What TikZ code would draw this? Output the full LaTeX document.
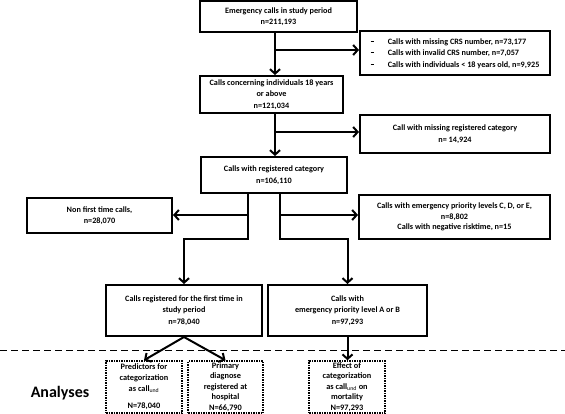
\documentclass[tikz,border=0pt]{standalone}
\usepackage{fontspec}
\setmainfont{Carlito}
\usetikzlibrary{arrows.meta,calc}
\newcommand{\dashitem}{\rule[2.3pt]{3.2pt}{1pt}\hspace{14pt}}
\begin{document}
\begin{tikzpicture}[x=1pt,y=-1pt,
  box/.style={draw,line width=2pt,align=center,inner sep=0.5pt,font=\fontsize{8.2}{11.5}\selectfont\bfseries},
  abox/.style={draw,line width=1.5pt,densely dotted,align=center,inner sep=0pt,font=\fontsize{8.3}{10.6}\selectfont\bfseries},
  arr/.style={line width=2pt,-{Straight Barb[length=4.5pt,width=10pt,line width=2pt]}}]
\useasboundingbox (0,0) rectangle (565,414);
% main column
\node[box,minimum width=157pt,minimum height=31pt] (b1) at (278.5,16.5) {Emergency calls in study period\\n=211,193};
\node[box,minimum width=190pt,minimum height=44pt,align=left] (r1) at (455,53.5) {\dashitem Calls with missing CRS number, n=73,177\\\dashitem Calls with invalid CRS number, n=7,057\\\dashitem Calls with individuals < 18 years old, n=9,925};
\node[box,minimum width=143pt,minimum height=37pt] (b2) at (271.5,94.5) {Calls concerning individuals 18 years\\or above\\n=121,034};
\node[box,minimum width=190pt,minimum height=38pt] (r2) at (455,134) {Call with missing registered category\\n= 14,924};
\node[box,minimum width=146pt,minimum height=36pt] (b3) at (274,175) {Calls with registered category\\n=106,110};
\node[box,minimum width=145pt,minimum height=35pt] (nf) at (99.5,215.5) {Non first time calls,\\n=28,070};
\node[box,minimum width=191pt,minimum height=44pt,font=\fontsize{8.2}{10.5}\selectfont\bfseries] (r3) at (454.5,217) {Calls with emergency priority levels C, D, or E,\\n=8,802\\Calls with negative risktime, n=15};
\node[box,minimum width=156pt,minimum height=51pt] (b4) at (184,310.5) {Calls registered for the first time in\\study period\\n=78,040};
\node[box,minimum width=159pt,minimum height=51pt] (b5) at (347.5,310.5) {Calls with\\emergency priority level A or B\\n=97,293};
% analyses
\node[abox,minimum width=76pt,minimum height=52pt] (aa) at (144,387) {Predictors for\\categorization\\as call$_{\mathrm{und}}$\\[7pt]N=78,040};
\node[abox,minimum width=75pt,minimum height=52pt] (ab) at (225.5,387) {Primary\\diagnose\\registered at\\hospital\\N=66,790};
\node[abox,minimum width=76pt,minimum height=52pt] (ac) at (347,387) {Effect of\\categorization\\as call$_{\mathrm{und}}$ on\\mortality\\N=97,293};
\node[font=\fontsize{16}{18}\selectfont\bfseries] (an) at (60,393) {Analyses};
\draw[line width=1pt,dash pattern=on 7pt off 4pt] (0,350) coordinate (dl) -- (565,350) coordinate (dr);
% connectors
\coordinate (sp) at (275,0);
\coordinate (sl) at (248,0);
\coordinate (sr) at (280,0);
\coordinate (y1) at (0,50);
\coordinate (y2) at (0,132);
\coordinate (y3) at (0,215);
\draw[arr] (b1.south -| sp) -- (b2.north -| sp);
\draw[arr] (sp |- y1) -- (r1.west |- y1);
\draw[arr] (b2.south -| sp) -- (b3.north -| sp);
\draw[arr] (sp |- y2) -- (r2.west |- y2);
\coordinate (j1) at (248,239);
\coordinate (j2) at (280,239);
\draw[arr] (b3.south -| sl) -- (j1) -- (j1 -| b4) -- (b4.north);
\draw[arr] (sl |- y3) -- (nf.east |- y3);
\draw[arr] (b3.south -| sr) -- (j2) -- (j2 -| b5) -- (b5.north);
\draw[arr] (sr |- y3) -- (r3.west |- y3);
\draw[arr] (b4.south) -- (aa.north);
\draw[arr] (b4.south) -- (ab.north);
\draw[arr] (b5.south) -- (ac.north -| b5.south);
\end{tikzpicture}
\end{document}
